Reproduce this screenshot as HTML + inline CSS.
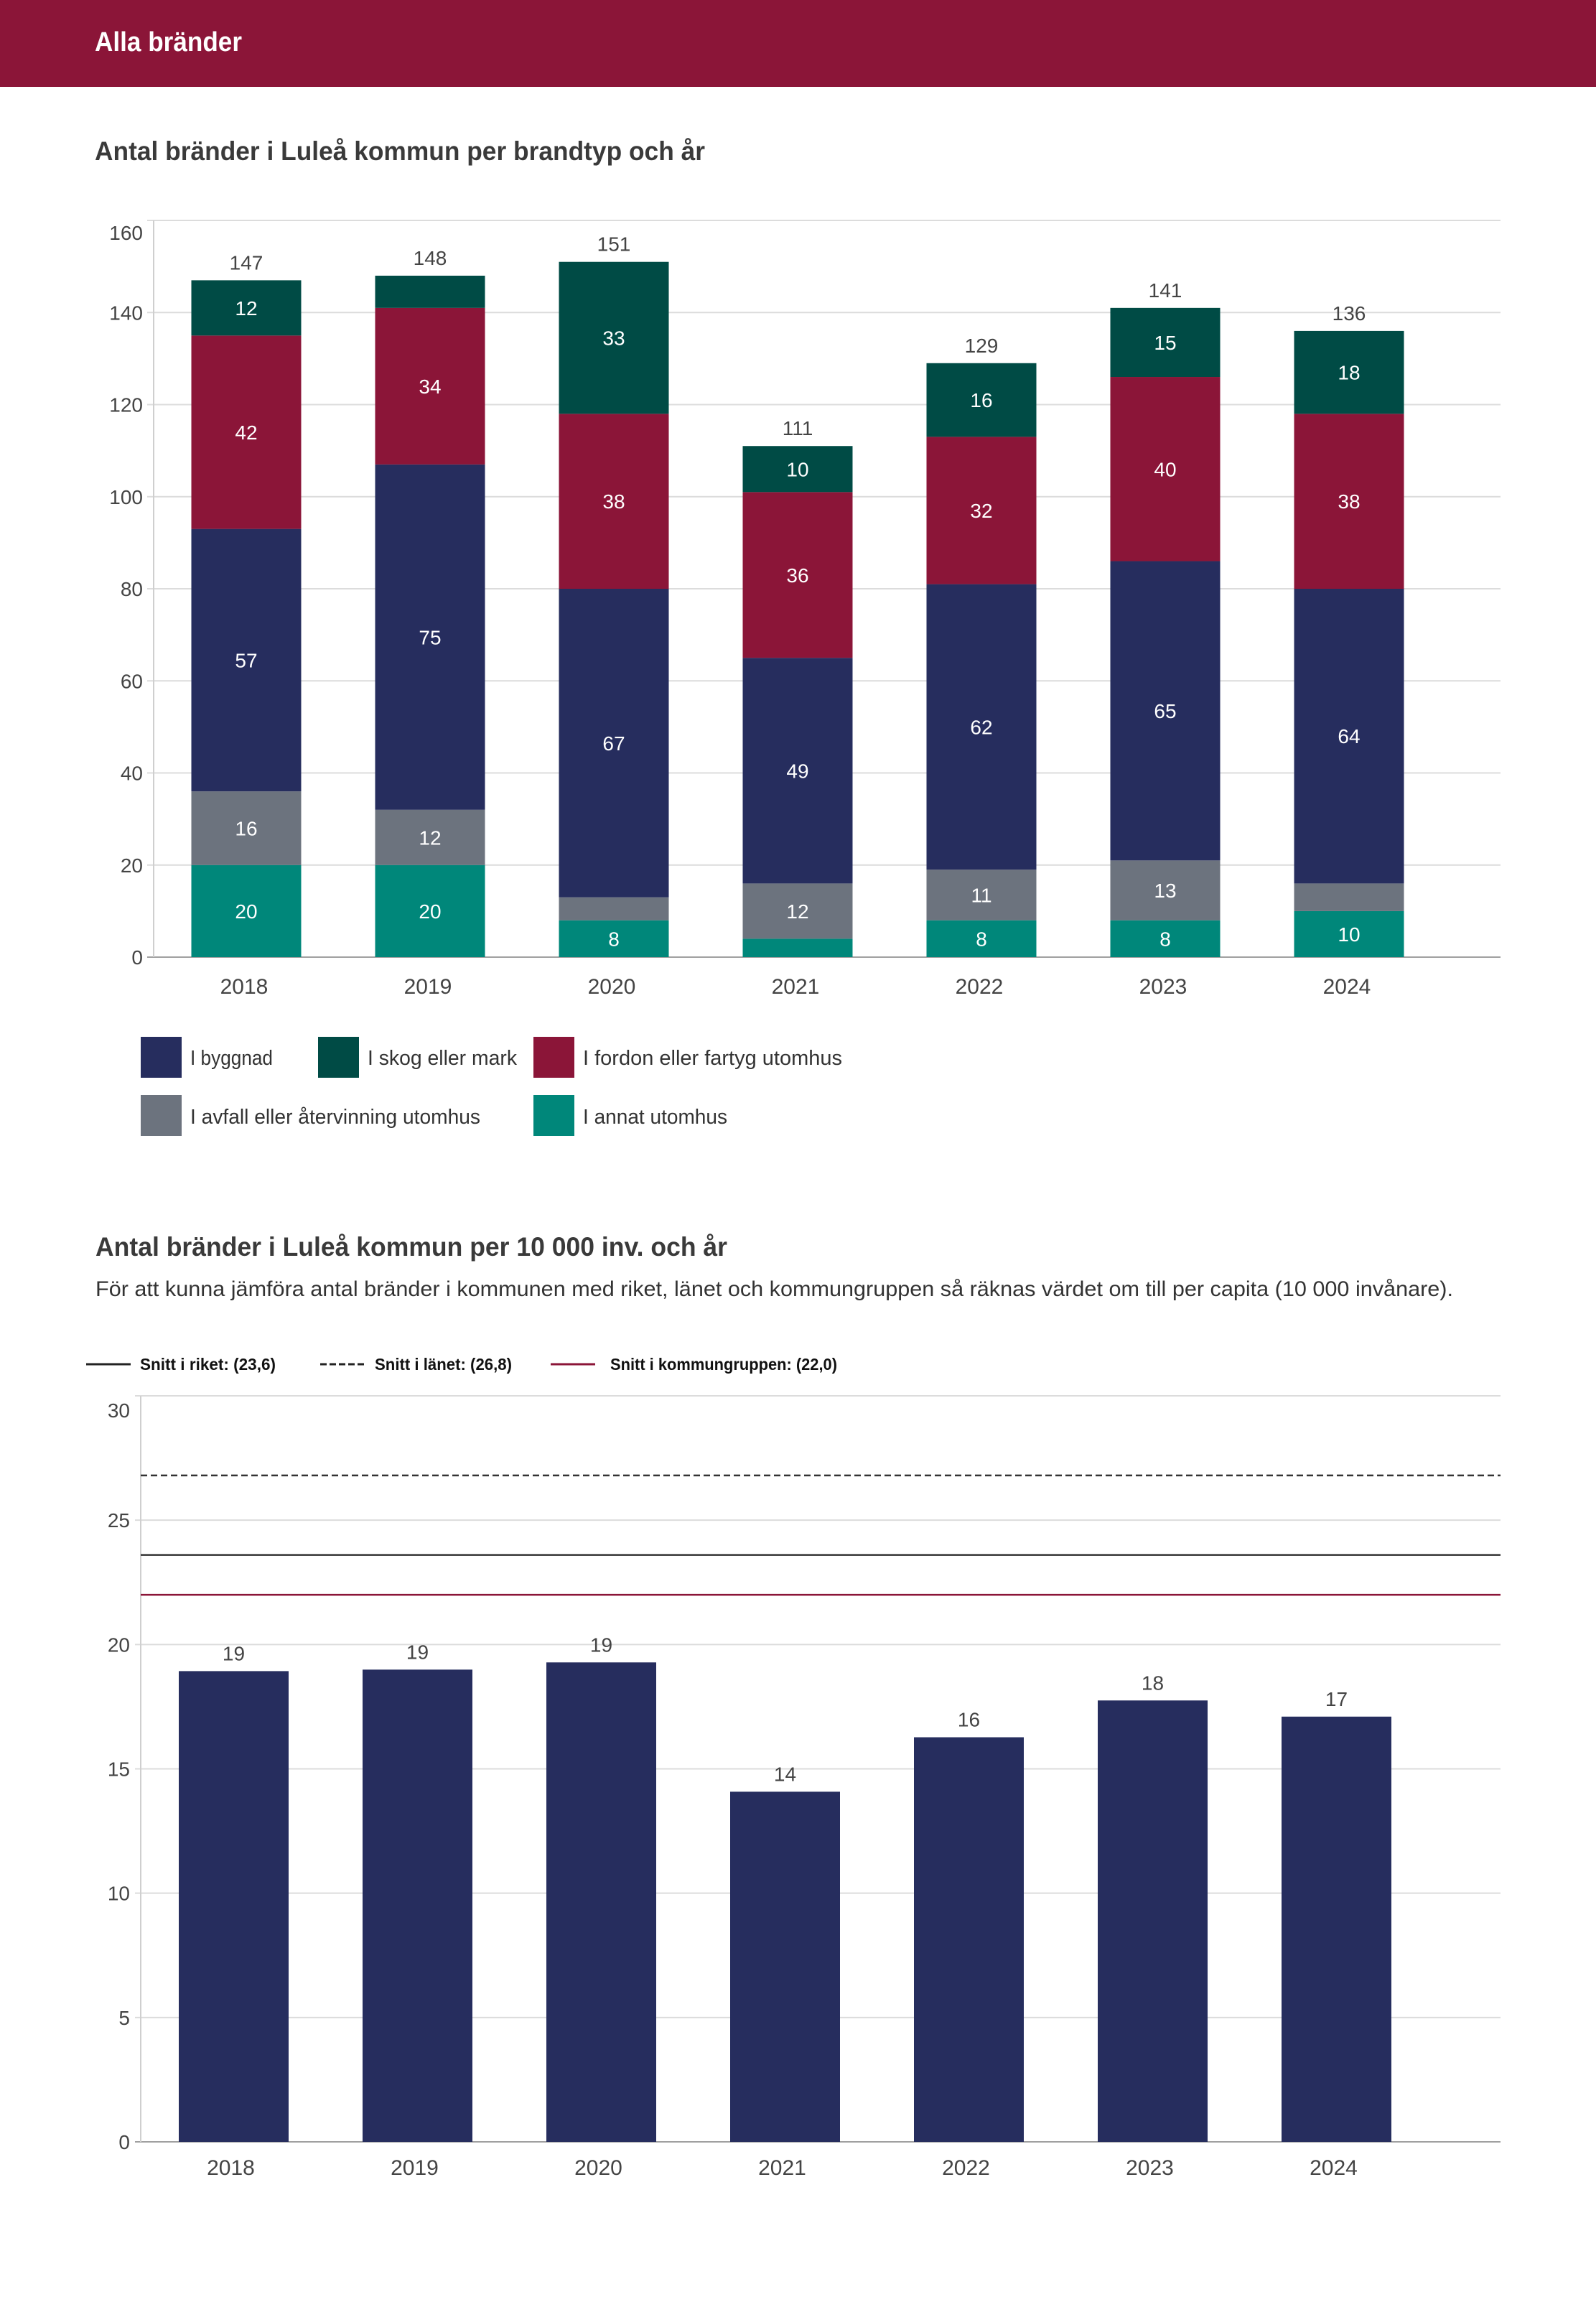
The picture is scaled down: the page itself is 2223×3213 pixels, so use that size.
<!DOCTYPE html>
<html><head><meta charset="utf-8"><style>
html,body{margin:0;padding:0;background:#fff;}
svg{display:block;font-family:"Liberation Sans",sans-serif;}
</style></head><body>
<svg id="page" width="2223" height="3213" viewBox="0 0 2223 3213" xmlns="http://www.w3.org/2000/svg">
<rect x="0" y="0" width="2223" height="121" fill="#8b1538"/>
<text x="132" y="71" font-size="38" font-weight="bold" fill="#fff" textLength="205" lengthAdjust="spacingAndGlyphs">Alla bränder</text>
<text x="132" y="223" font-size="37" font-weight="bold" fill="#3a3a3a" textLength="850" lengthAdjust="spacingAndGlyphs">Antal bränder i Luleå kommun per brandtyp och år</text>
<g id="c1"></g>
<g>
<rect x="196" y="1444" width="57" height="57" fill="#262d5e"/>
<text x="265" y="1483" font-size="29" fill="#333" textLength="115" lengthAdjust="spacingAndGlyphs">I byggnad</text>
<rect x="443" y="1444" width="57" height="57" fill="#004b45"/>
<text x="512" y="1483" font-size="29" fill="#333" textLength="208" lengthAdjust="spacingAndGlyphs">I skog eller mark</text>
<rect x="743" y="1444" width="57" height="57" fill="#8b1538"/>
<text x="812" y="1483" font-size="29" fill="#333" textLength="361" lengthAdjust="spacingAndGlyphs">I fordon eller fartyg utomhus</text>
<rect x="196" y="1525" width="57" height="57" fill="#6c737e"/>
<text x="265" y="1565" font-size="29" fill="#333" textLength="404" lengthAdjust="spacingAndGlyphs">I avfall eller återvinning utomhus</text>
<rect x="743" y="1525" width="57" height="57" fill="#00877a"/>
<text x="812" y="1565" font-size="29" fill="#333" textLength="201" lengthAdjust="spacingAndGlyphs">I annat utomhus</text>
</g>
<text x="133" y="1749" font-size="37" font-weight="bold" fill="#3a3a3a" textLength="880" lengthAdjust="spacingAndGlyphs">Antal bränder i Luleå kommun per 10 000 inv. och år</text>
<text x="133" y="1805" font-size="30" fill="#333" textLength="1891" lengthAdjust="spacingAndGlyphs">För att kunna jämföra antal bränder i kommunen med riket, länet och kommungruppen så räknas värdet om till per capita (10 000 invånare).</text>
<g>
<line x1="120" y1="1900" x2="182" y2="1900" stroke="#222" stroke-width="3"/>
<text x="195" y="1908" font-size="23" font-weight="bold" fill="#111" textLength="189" lengthAdjust="spacingAndGlyphs">Snitt i riket: (23,6)</text>
<line x1="446" y1="1900" x2="507" y2="1900" stroke="#222" stroke-width="3" stroke-dasharray="9,4"/>
<text x="522" y="1908" font-size="23" font-weight="bold" fill="#111" textLength="191" lengthAdjust="spacingAndGlyphs">Snitt i länet: (26,8)</text>
<line x1="767" y1="1900" x2="829" y2="1900" stroke="#8b1538" stroke-width="3"/>
<text x="850" y="1908" font-size="23" font-weight="bold" fill="#111" textLength="316" lengthAdjust="spacingAndGlyphs">Snitt i kommungruppen: (22,0)</text>
</g>
<g id="c2"></g>
</svg>
<script>
const years = ["2018","2019","2020","2021","2022","2023","2024"];
const annat = [20,20,8,4,8,8,10];
const avfall = [16,12,5,12,11,13,6];
const byggnad = [57,75,67,49,62,65,64];
const fordon = [42,34,38,36,32,40,38];
const skog = [12,7,33,10,16,15,18];
const ticks1 = [0,20,40,60,80,100,120,140,160];
const perCapita = [18.93,18.99,19.28,14.08,16.27,17.75,17.1];
const perCapitaLabels = ["19","19","19","14","16","18","17"];
const ticks2 = [0,5,10,15,20,25,30];
const refRiket = 23.6;
const refLanet = 26.8;
const refKommun = 22.0;

const NS="http://www.w3.org/2000/svg";
function mk(parent,tag,attrs,text){const e=document.createElementNS(NS,tag);for(const k in attrs)e.setAttribute(k,attrs[k]);if(text!==undefined)e.textContent=text;parent.appendChild(e);return e;}

// Chart 1
(function(){
const g=document.getElementById('c1');
const L=214,R=2090,y0=1333,yTop=307;
const y=v=>y0-(v/160)*(y0-yTop);
const xc=i=>343+i*256, bw=153;
ticks1.forEach((t,k)=>{
  const gl=mk(g,'line',{x1:205,x2:R,y1:y(t),y2:y(t),stroke:t===0?'#a0a0a0':'#dcdcdc','stroke-width':2});
  
  
  const ty=k===ticks1.length-1?y(t)+27:y(t)+10;
  const tl=mk(g,'text',{x:199,y:ty,'font-size':28,fill:'#444','text-anchor':'end'},String(t));
  
  
});
const ax=mk(g,'line',{x1:L,x2:L,y1:yTop,y2:y0,stroke:'#cfcfcf','stroke-width':2});


const series=[[annat,'#00877a','annat'],[avfall,'#6c737e','avfall'],[byggnad,'#262d5e','byggnad'],[fordon,'#8b1538','fordon'],[skog,'#004b45','skog']];
years.forEach((yr,i)=>{
  let cum=0;
  series.forEach(([arr,col,nm])=>{
    const v=arr[i];const a=cum,b=cum+v;cum=b;
    const r=mk(g,'rect',{x:xc(i)-bw/2,y:y(b),width:bw,height:y(a)-y(b),fill:col});
    
    
    if(v>=8){
      const t=mk(g,'text',{x:xc(i),y:(y(a)+y(b))/2+10,'font-size':28,fill:'#fff','text-anchor':'middle'},String(v));
      
      
    }
  });
  const tt=mk(g,'text',{x:xc(i),y:y(cum)-15,'font-size':28,fill:'#444','text-anchor':'middle'},String(cum));
  
  
  const xl=mk(g,'text',{x:xc(i)-3,y:1384,'font-size':30,fill:'#444','text-anchor':'middle'},yr);
  
  
});
})();

// Chart 2
(function(){
const g=document.getElementById('c2');
const L=196,R=2090,y0=2983,yTop=1944;
const y=v=>y0-(v/30)*(y0-yTop);
const xc=i=>325.5+i*256, bw=153;
ticks2.forEach((t,k)=>{
  const gl=mk(g,'line',{x1:188,x2:R,y1:y(t),y2:y(t),stroke:t===0?'#a0a0a0':'#dcdcdc','stroke-width':2});
  
  
  const ty=k===ticks2.length-1?y(t)+30:y(t)+10;
  const tl=mk(g,'text',{x:181,y:ty,'font-size':28,fill:'#444','text-anchor':'end'},String(t));
  
  
});
const ax=mk(g,'line',{x1:L,x2:L,y1:yTop,y2:y0,stroke:'#cfcfcf','stroke-width':2});


const refs=[[refLanet,'#333','9,5','lanet'],[refRiket,'#333','','riket'],[refKommun,'#8b1538','','kommungrupp']];
refs.forEach(([v,c,d,nm])=>{
  const a={x1:L,x2:R,y1:y(v),y2:y(v),stroke:c,'stroke-width':2.5};
  if(d)a['stroke-dasharray']=d;
  const l=mk(g,'line',a);
  
  
});
years.forEach((yr,i)=>{
  const v=perCapita[i];
  const r=mk(g,'rect',{x:xc(i)-bw/2,y:y(v),width:bw,height:y0-y(v),fill:'#262d5e'});
  
  
  const t=mk(g,'text',{x:xc(i),y:y(v)-15,'font-size':28,fill:'#444','text-anchor':'middle'},perCapitaLabels[i]);
  
  
  const xl=mk(g,'text',{x:xc(i)-4,y:3029,'font-size':30,fill:'#444','text-anchor':'middle'},yr);
  
  
});
})();
</script>
</body></html>
